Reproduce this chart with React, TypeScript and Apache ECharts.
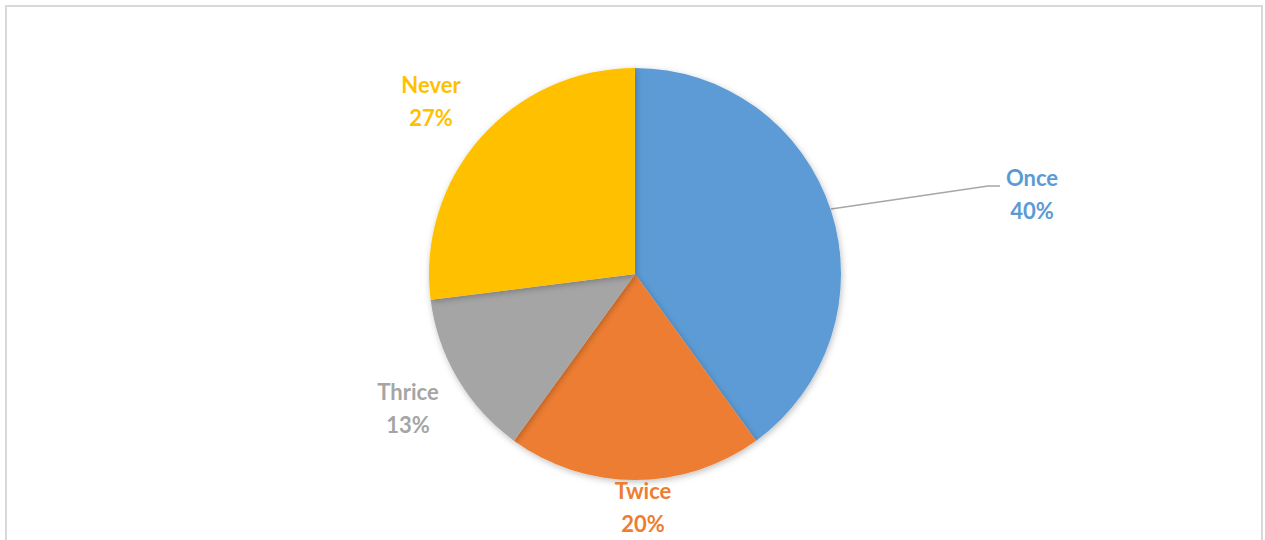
import React, { useEffect, useRef } from "react";
import * as echarts from "echarts";

const categories = ["Once", "Twice", "Thrice", "Never"];
const percents = [40, 20, 13, 27];
const colors = ["#5B9BD5", "#ED7D31", "#A5A5A5", "#FFC000"];

// label anchor positions (chart pixel coordinates)
const labelPos: number[][] = [
  [1032, 194],
  [643, 507],
  [408, 408],
  [431, 101],
];

export default function App() {
  const ref = useRef<HTMLDivElement>(null);
  useEffect(() => {
    if (!ref.current) return;
    const chart = echarts.init(ref.current, undefined, { renderer: "svg" });
    chart.setOption({
      animation: false,
      backgroundColor: "#ffffff",
      graphic: [
        {
          type: "rect",
          shape: { x: 6, y: 6, width: 1256, height: 560 },
          style: { fill: "none", stroke: "#d9d9d9", lineWidth: 2 },
          silent: true,
        },
      ],
      series: [
        {
          type: "pie",
          center: [635, 274],
          radius: 206,
          startAngle: 90,
          clockwise: true,
          avoidLabelOverlap: false,
          itemStyle: {
            borderWidth: 0,
            shadowBlur: 6,
            shadowColor: "rgba(0,0,0,0.25)",
            shadowOffsetX: 1,
            shadowOffsetY: 2,
          },
          label: {
            show: true,
            position: "outside",
            fontFamily: "Lato, 'Open Sans', sans-serif",
            fontWeight: "bold",
            fontSize: 22,
            lineHeight: 33,
            align: "center",
            formatter: (p: any) => `${p.name}\n${Math.round(p.percent)}%`,
          },
          labelLine: {
            show: true,
            lineStyle: { color: "#a6a6a6", width: 1.5 },
          },
          labelLayout: (params: any) => {
            const i = params.dataIndex;
            const p = labelPos[i];
            const res: any = {
              x: p[0],
              y: p[1],
              align: "center",
              verticalAlign: "middle",
            };
            if (i === 0) {
              res.labelLinePoints = [
                [831, 209],
                [988, 186],
                [1000, 186],
              ];
            }
            return res;
          },
          data: categories.map((name, i) => ({
            name,
            value: percents[i],
            itemStyle: { color: colors[i] },
            label: { color: colors[i] },
            labelLine: { show: i === 0 },
          })),
        },
      ],
    });
    return () => chart.dispose();
  }, []);
  return (
    <div
      ref={ref}
      style={{ position: "fixed", left: 0, top: 0, width: 1265, height: 540 }}
    />
  );
}
